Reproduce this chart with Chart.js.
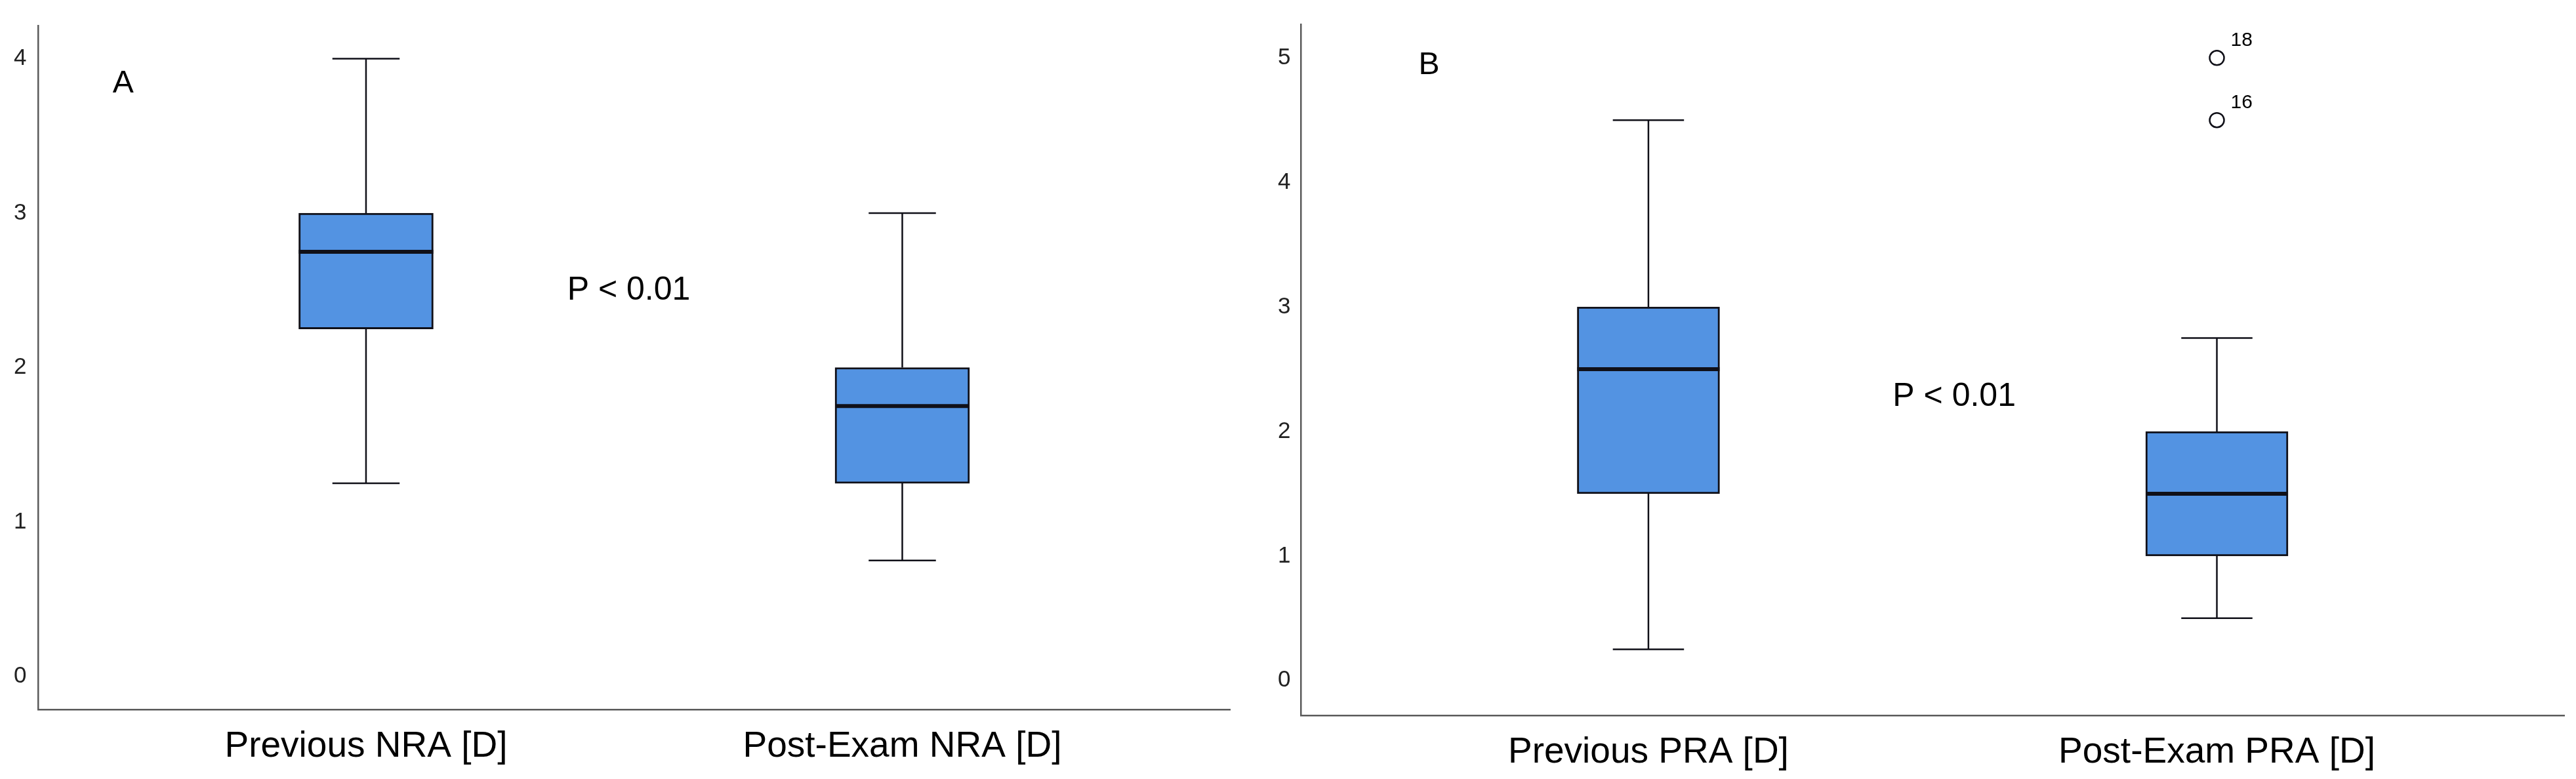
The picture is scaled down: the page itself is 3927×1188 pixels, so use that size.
<!DOCTYPE html>
<html>
<head>
<meta charset="utf-8">
<script src="https://cdn.jsdelivr.net/npm/chart.js@4.4.1/dist/chart.umd.min.js"></script>
<style>
    html, body { margin: 0; padding: 0; background: #fff; overflow: hidden; }
    .panel { position: absolute; top: 0; height: 1188px; overflow: hidden; }
    .inner { position: relative; width: 100%; height: 1212px; }
    #panelA { left: 0; width: 1940px; }
    #panelB { left: 1920px; width: 2007px; }
</style>
</head>
<body>
<div class="panel" id="panelA"><div class="inner"><canvas id="chartA"></canvas></div></div>
<div class="panel" id="panelB"><div class="inner"><canvas id="chartB"></canvas></div></div>
<script>
    // panel A - NRA
    const categoriesA = ["Previous NRA [D]", "Post-Exam NRA [D]"];
    const minA = [1.25, 0.75];
    const q1A = [2.25, 1.25];
    const medianA = [2.75, 1.75];
    const q3A = [3.0, 2.0];
    const maxA = [4.0, 3.0];
    const yTicksA = [0, 1, 2, 3, 4];

    // panel B - PRA
    const categoriesB = ["Previous PRA [D]", "Post-Exam PRA [D]"];
    const minB = [0.25, 0.5];
    const q1B = [1.5, 1.0];
    const medianB = [2.5, 1.5];
    const q3B = [3.0, 2.0];
    const maxB = [4.5, 2.75];
    const yTicksB = [0, 1, 2, 3, 4, 5];
    const outlierGroupB = [2, 2];
    const outlierValuesB = [5.0, 4.5];
    const outlierCasesB = ["18", "16"];

    const FONT = "'Liberation Sans', Arial, sans-serif";
    const BOX_FILL = "#5393e2";
    const INK = "#101018";
    const AXIS = "#5a5a5a";

    // whiskers, caps, medians and free text drawn through the chart scales
    const boxPlotExtras = {
        id: "boxPlotExtras",
        afterDatasetsDraw(chart, args, opts) {
            const { ctx, scales: { x, y } } = chart;
            const bars = chart.getDatasetMeta(0).data;
            ctx.save();
            ctx.strokeStyle = INK;
            ctx.lineCap = "butt";
            bars.forEach((bar, i) => {
                const cx = x.getPixelForValue(i + 1);
                const half = bar.width / 2;
                const cap = bar.width / 4;
                const yMin = y.getPixelForValue(opts.min[i]);
                const yQ1 = y.getPixelForValue(opts.q1[i]);
                const yQ3 = y.getPixelForValue(opts.q3[i]);
                const yMax = y.getPixelForValue(opts.max[i]);
                const yMed = y.getPixelForValue(opts.median[i]);
                ctx.lineWidth = 2.5;
                ctx.beginPath();
                ctx.moveTo(cx, yQ3); ctx.lineTo(cx, yMax);
                ctx.moveTo(cx - cap, yMax); ctx.lineTo(cx + cap, yMax);
                ctx.moveTo(cx, yQ1); ctx.lineTo(cx, yMin);
                ctx.moveTo(cx - cap, yMin); ctx.lineTo(cx + cap, yMin);
                ctx.stroke();
                ctx.lineWidth = 6;
                ctx.beginPath();
                ctx.moveTo(cx - half, yMed); ctx.lineTo(cx + half, yMed);
                ctx.stroke();
            });
            ctx.fillStyle = "#000";
            (opts.texts || []).forEach(t => {
                ctx.font = `${t.size}px ${FONT}`;
                ctx.textAlign = t.align || "center";
                ctx.textBaseline = "middle";
                ctx.fillText(t.text, x.getPixelForValue(t.x), y.getPixelForValue(t.y));
            });
            (opts.pointLabels || []).forEach(p => {
                ctx.font = `30px ${FONT}`;
                ctx.textAlign = "left";
                ctx.textBaseline = "alphabetic";
                ctx.fillText(p.text, x.getPixelForValue(p.x) + 21, y.getPixelForValue(p.y) - 18);
            });
            ctx.restore();
        }
    };

    function makeBoxChart(canvasId, cfg) {
        const datasets = [{
            type: "bar",
            data: cfg.categories.map((c, i) => ({ x: i + 1, y: [cfg.q1[i], cfg.q3[i]] })),
            backgroundColor: BOX_FILL,
            borderColor: INK,
            borderWidth: 3,
            borderSkipped: false,
            barThickness: cfg.boxWidth
        }];
        if (cfg.outliers) {
            datasets.push({
                type: "scatter",
                data: cfg.outliers.map(o => ({ x: o.x, y: o.y })),
                pointStyle: "circle",
                pointRadius: 11,
                pointBorderWidth: 2.5,
                pointBorderColor: INK,
                pointBackgroundColor: "#fff",
                showLine: false
            });
        }
        return new Chart(document.getElementById(canvasId), {
            type: "bar",
            data: { datasets },
            options: {
                responsive: true,
                maintainAspectRatio: false,
                animation: false,
                layout: { padding: cfg.padding },
                plugins: {
                    legend: { display: false },
                    tooltip: { enabled: false },
                    boxPlotExtras: {
                        min: cfg.min, q1: cfg.q1, median: cfg.median, q3: cfg.q3, max: cfg.max,
                        texts: cfg.texts,
                        pointLabels: cfg.outliers
                    }
                },
                scales: {
                    x: {
                        type: "linear",
                        min: 0.389,
                        max: 2.611,
                        offset: false,
                        grid: { display: false, drawTicks: false },
                        border: { display: true, color: AXIS, width: 2.5 },
                        afterBuildTicks: axis => { axis.ticks = cfg.categories.map((c, i) => ({ value: i + 1 })); },
                        ticks: {
                            padding: 24,
                            color: "#000",
                            font: { family: FONT, size: 55 },
                            callback: v => cfg.categories[v - 1]
                        }
                    },
                    y: {
                        type: "linear",
                        min: cfg.yMin,
                        max: cfg.yMax,
                        grid: { display: false, drawTicks: false },
                        border: { display: true, color: AXIS, width: 2.5 },
                        afterBuildTicks: axis => { axis.ticks = cfg.yTicks.map(v => ({ value: v })); },
                        ticks: {
                            padding: cfg.tickPad,
                            color: "#222",
                            font: { family: FONT, size: 35 }
                        }
                    }
                }
            },
            plugins: [boxPlotExtras]
        });
    }

    makeBoxChart("chartA", {
        categories: categoriesA,
        min: minA, q1: q1A, median: medianA, q3: q3A, max: maxA,
        yTicks: yTicksA,
        yMin: -0.215, yMax: 4.215,
        boxWidth: 205,
        tickPad: 18,
        padding: { left: 3, right: 65, top: 31, bottom: 16 },
        texts: [
            { text: "A", x: 0.547, y: 3.84, size: 48 },
            { text: "P < 0.01", x: 1.49, y: 2.5, size: 50 }
        ]
    });

    makeBoxChart("chartB", {
        categories: categoriesB,
        min: minB, q1: q1B, median: medianB, q3: q3B, max: maxB,
        yTicks: yTicksB,
        yMin: -0.28, yMax: 5.27,
        boxWidth: 217,
        tickPad: 16,
        padding: { left: 12, right: 18, top: 31, bottom: 7 },
        outliers: outlierValuesB.map((v, i) => ({ x: outlierGroupB[i], y: v, text: outlierCasesB[i] })),
        texts: [
            { text: "B", x: 0.614, y: 4.94, size: 48 },
            { text: "P < 0.01", x: 1.538, y: 2.28, size: 50 }
        ]
    });
</script>
</body>
</html>
